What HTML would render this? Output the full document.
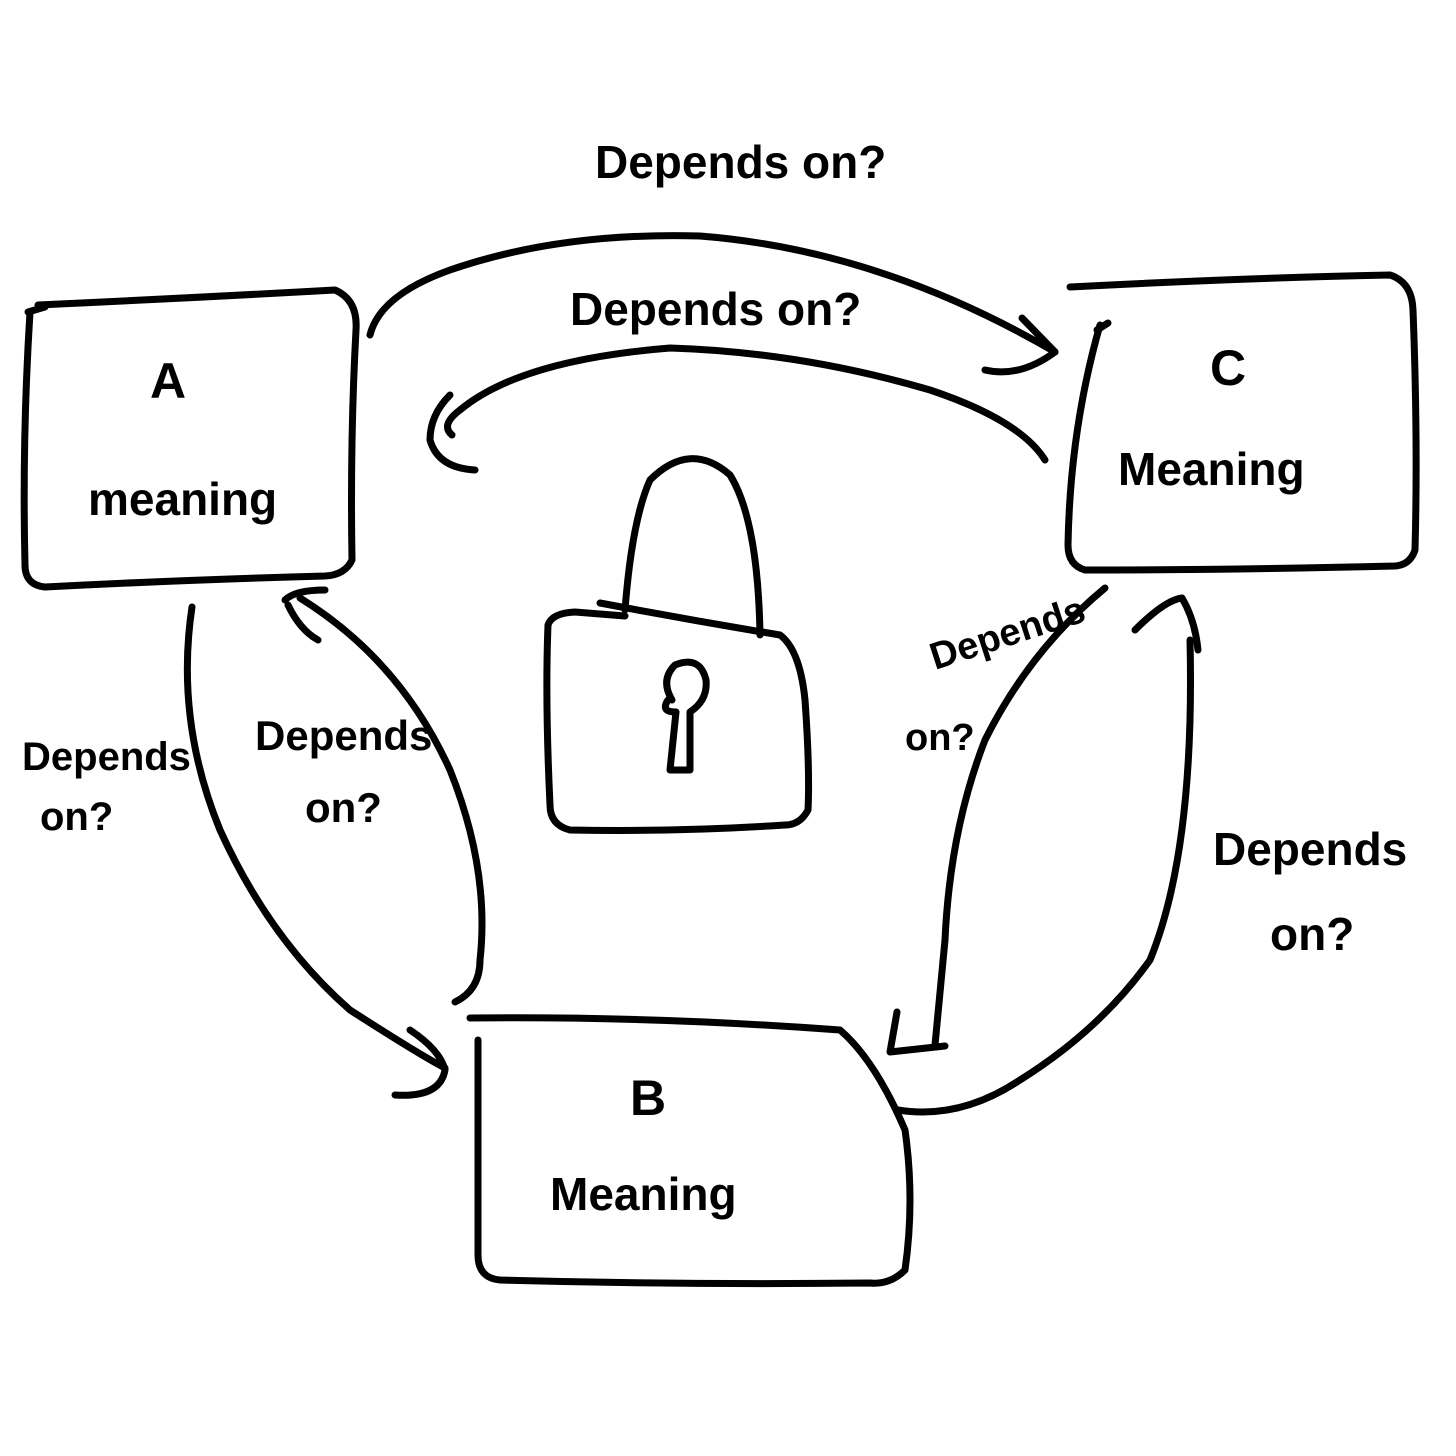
<!DOCTYPE html>
<html><head><meta charset="utf-8"><style>
html,body{margin:0;padding:0;background:#fff;}
svg{display:block;}
text{font-family:"Liberation Sans",sans-serif;fill:#000;font-weight:bold;}
</style></head><body>
<svg width="1456" height="1456" viewBox="0 0 1456 1456" xmlns="http://www.w3.org/2000/svg">
<g fill="none" stroke="#000" stroke-width="7" stroke-linecap="round" stroke-linejoin="round">
<path d="M38,305 Q190,298 335,290 Q358,300 356,330 Q350,440 352,560 Q345,575 325,576 Q180,580 45,587 Q25,585 25,565 Q22,440 30,312"/>
<path d="M28,312 L45,307"/>
<path d="M1070,287 Q1240,278 1390,275 Q1412,282 1413,310 Q1418,440 1415,550 Q1410,565 1395,566 Q1230,570 1085,570 Q1068,565 1068,545 Q1070,430 1100,325"/>
<path d="M1097,330 L1108,323"/>
<path d="M470,1018 Q650,1016 840,1030 Q875,1060 905,1130 Q915,1200 905,1270 Q890,1285 870,1283 Q680,1285 500,1280 Q478,1278 478,1255 Q478,1150 478,1040"/>
<path d="M600,603 Q690,620 780,635 Q800,650 805,700 Q810,770 808,810 Q800,825 785,825 Q680,832 570,830 Q550,825 550,805 Q545,700 548,625 Q552,613 575,612 L625,616"/>
<path d="M625,610 Q632,520 650,480 Q690,440 730,475 Q758,520 760,635"/>
<path d="M672,700 Q660,680 675,665 Q700,655 706,680 Q708,700 690,712 L690,770 L670,770 L676,712 Q660,712 668,700"/>
<path d="M370,335 Q380,295 450,270 Q560,232 700,236 Q880,250 1055,352"/>
<path d="M1022,318 L1055,352 Q1020,378 985,370"/>
<path d="M1045,460 Q1020,420 930,390 Q800,352 670,348 Q520,360 460,410 Q440,425 452,435"/>
<path d="M450,395 Q430,415 430,440 Q438,468 475,470"/>
<path d="M192,607 Q175,720 220,830 Q270,940 350,1010 Q420,1055 445,1068"/>
<path d="M410,1030 Q440,1050 445,1070 Q440,1098 395,1095"/>
<path d="M455,1002 Q480,990 480,960 Q490,870 450,770 Q400,660 300,598"/>
<path d="M285,600 Q295,590 325,590 M288,605 Q300,630 318,640"/>
<path d="M1105,588 Q1030,650 985,740 Q950,830 945,940 L935,1045"/>
<path d="M897,1012 L890,1052 L945,1046"/>
<path d="M898,1110 Q960,1120 1020,1080 Q1100,1030 1150,960 Q1195,850 1190,640"/>
<path d="M1135,630 Q1165,600 1182,598 Q1195,620 1198,650"/>
</g>
<g font-size="46">
<text x="595" y="178">Depends on?</text>
<text x="570" y="325">Depends on?</text>
<text x="150" y="398" font-size="50">A</text>
<text x="88" y="515">meaning</text>
<text x="1210" y="385" font-size="50">C</text>
<text x="1118" y="485">Meaning</text>
<text x="630" y="1115" font-size="50">B</text>
<text x="550" y="1210">Meaning</text>
<text x="22" y="770" font-size="40">Depends</text>
<text x="40" y="830" font-size="40">on?</text>
<text x="255" y="750" font-size="42">Depends</text>
<text x="305" y="822" font-size="42">on?</text>
<text x="935" y="670" font-size="38" transform="rotate(-18 935 670)">Depends</text>
<text x="905" y="750" font-size="38">on?</text>
<text x="1213" y="865">Depends</text>
<text x="1270" y="950">on?</text>
</g>
</svg>
</body></html>
